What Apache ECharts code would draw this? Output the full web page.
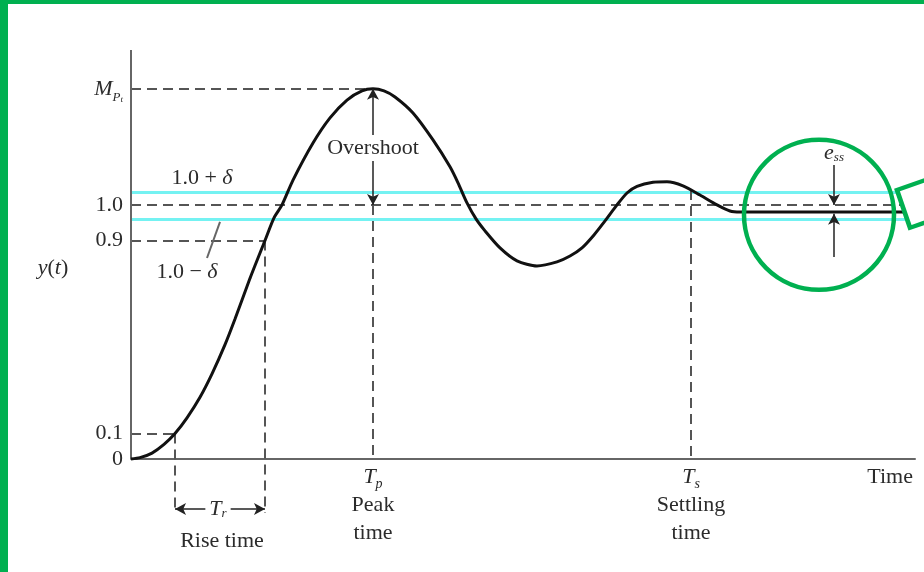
<!DOCTYPE html>
<html><head><meta charset="utf-8">
<script src="https://cdn.jsdelivr.net/npm/echarts@6/dist/echarts.min.js"></script>
<style>html,body{margin:0;padding:0;background:#fff}#c{width:924px;height:572px}</style>
</head><body><div id="c"></div>
<script>
// ---- data (time in arbitrary units, response y(t)) ----
const curveTime  = [0, 0.09, 0.21, 0.33, 0.44, 0.56, 0.69, 0.81, 0.94, 1.04, 1.19, 1.34, 1.43, 1.51, 1.62, 1.82, 1.99, 2.16, 2.31, 2.42, 2.53, 2.64, 2.82, 3.02, 3.19, 3.27, 3.36, 3.45, 3.54, 3.69, 3.86, 4.06, 4.26, 4.39, 4.51, 4.63, 4.74, 4.86, 4.96, 5.06, 5.22, 5.36, 5.52, 5.69, 5.86, 5.99, 6.09, 7.74];
const curveValue = [0, 0.005, 0.023, 0.057, 0.1, 0.162, 0.243, 0.335, 0.450, 0.551, 0.711, 0.86, 0.949, 1.0, 1.098, 1.244, 1.343, 1.413, 1.449, 1.457, 1.449, 1.425, 1.362, 1.256, 1.150, 1.087, 1.008, 0.945, 0.898, 0.831, 0.780, 0.760, 0.776, 0.799, 0.831, 0.882, 0.937, 1.0, 1.047, 1.073, 1.089, 1.091, 1.075, 1.039, 1.0, 0.976, 0.972, 0.972];

const yTickValues = [0, 0.1, 0.86, 1.0, 1.457];
const yTickLabels = ['0', '0.1', '0.9', '1.0', '{m|M}{p|P}{t|t}'];
const xTickValues = [2.42, 5.60];
const xTickLabels = ['{it|T}{sub|p}\n{n|Peak}\n{n|time}', '{it|T}{sub|s}\n{n|Settling}\n{n|time}'];

const bandValues = [0.945, 1.051];          // 1.0 - δ , 1.0 + δ
const finalValue = 1.0;
const peakValue = 1.457;
const steadyValue = 0.972;
const lowLevel = 0.1, highLevel = 0.86;     // "0.1" and "0.9" levels
const riseStart = 0.44, riseEnd = 1.34, peakTime = 2.42, settleTime = 5.60, settleCurve = 1.059;
const essTime = 7.03, refEnd = 7.70, bandEnd = 7.74;
const riseArrowY = -0.197, riseDropY = -0.213;

const noteTimes  = [2.42, 0.71, 0.56, 0.87, 0.91, 7.03, -0.78];
const noteValues = [1.224, 1.106, 0.736, -0.197, -0.323, 1.205, 0.752];
const noteTexts  = ['Overshoot', '1.0 + {i|δ}', '1.0 − {i|δ}', '{i|T}{s|r}', 'Rise time', '{i|e}{s|ss}', '{i|y}({i|t})'];
const noteBoxed  = [true, false, false, true, false, false, false];

const slashFrom = [0.89, 0.933], slashTo = [0.76, 0.791];
const essUpper = [1.157, 1.0], essLower = [0.795, 0.965];
const circleCenter = [6.88, 0.961];
const boxCenter = [7.933, 1.013];

// ---- chart ----
const FONT = 'Liberation Serif';
const GREEN = '#00b050';
const TXT = '#2b2b2b';
const Y_MIN = -0.4, Y_MAX = 1.61, GRID_TOP = 50, GRID_BOTTOM = 11.46, H = 572;
const PX_PER_UNIT = (H - GRID_TOP - GRID_BOTTOM) / (Y_MAX - Y_MIN);
const seg = (a, b, s0, s1) => [{coord: a, symbol: s0 || 'none'}, {coord: b, symbol: s1 || 'none'}];

const chart = echarts.init(document.getElementById('c'), null, {renderer: 'canvas'});
const richBase = {
  i: {fontStyle: 'italic', fontFamily: FONT, fontSize: 22, color: TXT},
  s: {fontStyle: 'italic', fontFamily: FONT, fontSize: 13, color: TXT, verticalAlign: 'bottom', lineHeight: 14}
};

const option = {
  animation: false,
  backgroundColor: '#fff',
  textStyle: {fontFamily: FONT},
  grid: {left: 131, right: 9, top: GRID_TOP, bottom: GRID_BOTTOM, containLabel: false, outerBoundsMode: 'none'},
  xAxis: {
    type: 'value', min: 0, max: 7.84,
    offset: Y_MIN * PX_PER_UNIT,          // put the time axis at y = 0
    axisLine: {onZero: false, lineStyle: {color: '#666', width: 2}},
    axisTick: {show: false}, splitLine: {show: false},
    axisLabel: {
      customValues: xTickValues, margin: 4, color: TXT, fontFamily: FONT, fontSize: 22,
      formatter: v => { const i = xTickValues.findIndex(x => Math.abs(x - v) < 1e-6); return i >= 0 ? xTickLabels[i] : ''; },
      rich: {
        it: {fontStyle: 'italic', fontFamily: FONT, fontSize: 22, lineHeight: 28, color: TXT},
        sub: {fontStyle: 'italic', fontFamily: FONT, fontSize: 14, lineHeight: 16, verticalAlign: 'bottom', color: TXT},
        n: {fontFamily: FONT, fontSize: 22, lineHeight: 28, color: TXT}
      }
    },
    name: 'Time', nameLocation: 'end', nameGap: -2,
    nameTextStyle: {fontFamily: FONT, fontSize: 22, color: TXT, align: 'right', verticalAlign: 'top', padding: [7, 0, 0, 0]}
  },
  yAxis: {
    type: 'value', min: Y_MIN, max: Y_MAX,
    axisLine: {show: false}, axisTick: {show: false}, splitLine: {show: false},
    axisLabel: {
      customValues: yTickValues, margin: 8, color: TXT, fontFamily: FONT, fontSize: 22,
      formatter: v => { const i = yTickValues.findIndex(x => Math.abs(x - v) < 1e-6); return i >= 0 ? yTickLabels[i] : ''; },
      rich: {
        m: {fontStyle: 'italic', fontFamily: FONT, fontSize: 22, lineHeight: 30, color: TXT},
        p: {fontStyle: 'italic', fontFamily: FONT, fontSize: 13, lineHeight: 12, verticalAlign: 'bottom', color: TXT},
        t: {fontStyle: 'italic', fontFamily: FONT, fontSize: 9, lineHeight: 8, verticalAlign: 'bottom', color: TXT}
      }
    }
  },
  graphic: [
    {type: 'rect', z: 100, shape: {x: 0, y: 0, width: 924, height: 4}, style: {fill: GREEN}},
    {type: 'rect', z: 100, shape: {x: 0, y: 0, width: 8, height: 572}, style: {fill: GREEN}}
  ],
  series: [
    { // tolerance band 1.0 ± δ
      type: 'line', data: [], z: 1, silent: true,
      markLine: {z: 1, silent: true, symbol: ['none', 'none'], label: {show: false}, emphasis: {disabled: true},
        lineStyle: {color: '#74f2f2', width: 3, type: 'solid'},
        data: bandValues.map(v => seg([0, v], [bandEnd, v]))}
    },
    { // dashed reference lines
      type: 'line', data: [], z: 2, silent: true,
      markLine: {z: 2, silent: true, symbol: ['none', 'none'], label: {show: false}, emphasis: {disabled: true},
        lineStyle: {color: '#555', width: 2, type: [10, 6]},
        data: [
          seg([0, lowLevel], [riseStart, lowLevel]),
          seg([0, highLevel], [riseEnd, highLevel]),
          seg([0, finalValue], [refEnd, finalValue]),
          seg([0, peakValue], [peakTime, peakValue]),
          seg([riseStart, lowLevel], [riseStart, riseDropY]),
          seg([riseEnd, highLevel], [riseEnd, riseDropY]),
          seg([peakTime, finalValue], [peakTime, 0]),
          seg([settleTime, settleCurve], [settleTime, 0])
        ]}
    },
    { // y axis line and the δ pointer
      type: 'line', data: [], z: 2, silent: true,
      markLine: {z: 2, silent: true, symbol: ['none', 'none'], label: {show: false}, emphasis: {disabled: true},
        lineStyle: {color: '#666', width: 2, type: 'solid'},
        data: [seg([0, 0], [0, Y_MAX]), seg(slashFrom, slashTo)]}
    },
    { // step response
      type: 'line', name: 'y(t)', z: 3, silent: true, symbol: 'none',
      smooth: 0.25,
      lineStyle: {color: '#111', width: 3},
      data: curveTime.map((t, i) => [t, curveValue[i]])
    },
    { // arrows
      type: 'line', data: [], z: 4, silent: true,
      markLine: {z: 4, silent: true, symbolSize: [9, 11], label: {show: false}, emphasis: {disabled: true},
        lineStyle: {color: '#222', width: 1.5, type: 'solid'},
        data: [
          seg([peakTime, peakValue], [peakTime, finalValue], 'arrow', 'arrow'),
          seg([riseStart, riseArrowY], [riseEnd, riseArrowY], 'arrow', 'arrow'),
          seg([essTime, essUpper[0]], [essTime, essUpper[1]], 'none', 'arrow'),
          seg([essTime, essLower[0]], [essTime, essLower[1]], 'none', 'arrow')
        ]}
    },
    { // highlight circle and callout box
      type: 'scatter', z: 5, silent: true, clip: false,
      itemStyle: {opacity: 1},
      data: [
        {value: circleCenter, symbol: 'circle', symbolSize: 150, itemStyle: {color: 'rgba(0,0,0,0)', borderColor: GREEN, borderWidth: 4.5, opacity: 1}},
        {value: boxCenter, symbol: 'rect', symbolSize: [44, 40], symbolRotate: 19, itemStyle: {color: '#fff', borderColor: GREEN, borderWidth: 4.5, opacity: 1}}
      ]
    },
    { // text annotations
      type: 'scatter', z: 6, silent: true, clip: false, symbolSize: 0,
      itemStyle: {opacity: 1},
      data: noteTimes.map((t, i) => ({
        value: [t, noteValues[i]],
        label: {
          show: true, position: 'inside', formatter: noteTexts[i],
          fontFamily: FONT, fontSize: 22, color: TXT, align: 'center', verticalAlign: 'middle',
          backgroundColor: noteBoxed[i] ? '#fff' : 'transparent', padding: noteBoxed[i] ? [2, 4] : 0,
          rich: richBase
        }
      }))
    }
  ]
};
chart.setOption(option);
</script></body></html>
